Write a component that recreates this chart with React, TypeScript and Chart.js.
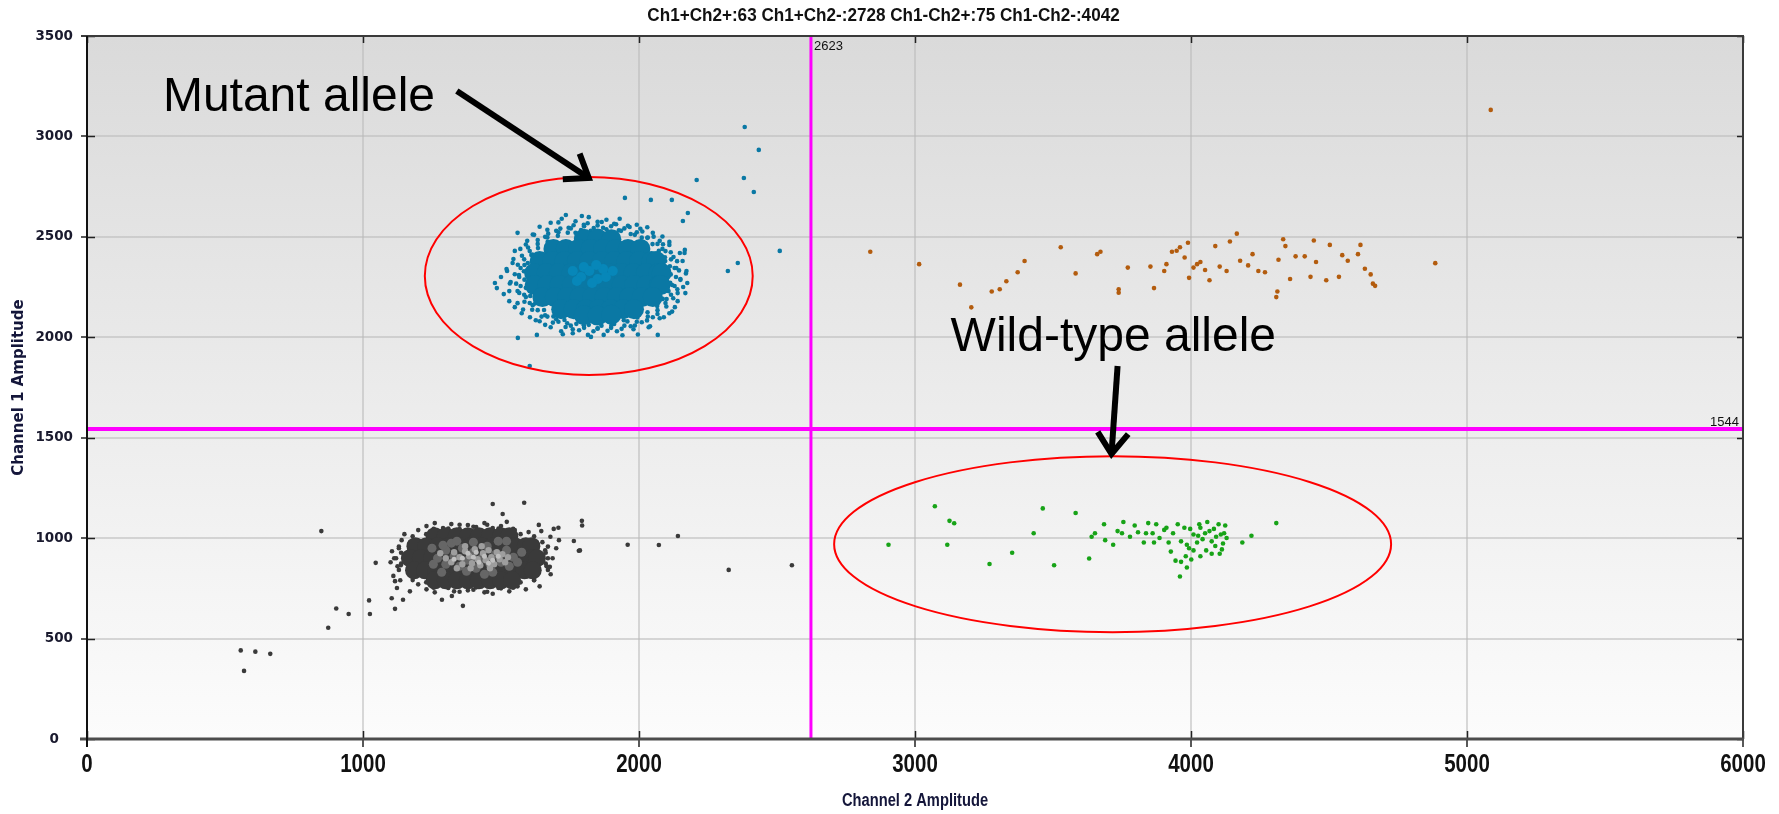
import React, { useEffect, useRef } from 'react';
import { Chart, registerables } from 'chart.js';

Chart.register(...registerables);

type Pt = [number, number];

// ---------- texts & ticks ----------
const chartTitle = 'Ch1+Ch2+:63 Ch1+Ch2-:2728 Ch1-Ch2+:75 Ch1-Ch2-:4042';
const xAxisTitle = 'Channel 2 Amplitude';
const yAxisTitle = 'Channel 1 Amplitude';
const xTickValues = [0, 1000, 2000, 3000, 4000, 5000, 6000];
const yTickValues = [0, 500, 1000, 1500, 2000, 2500, 3000, 3500];
const ch2Threshold = 2623;
const ch1Threshold = 1544;
const mutantLabel = 'Mutant allele';
const wildLabel = 'Wild-type allele';

// ---------- droplets: Ch1+Ch2+ (orange) ----------
const orangeDouble: Pt[] = [
  [2838, 2426], [3015, 2364], [3163, 2262], [3204, 2149], [3278, 2228], [3331, 2279], [3307, 2239],
  [3372, 2324], [3397, 2380], [3528, 2448], [3582, 2318], [3660, 2414], [3672, 2426], [3738, 2222],
  [3738, 2239], [3771, 2347], [3853, 2352], [3866, 2245], [3903, 2330], [3911, 2364], [3931, 2426],
  [3948, 2431], [3960, 2448], [3977, 2397], [3989, 2471], [3993, 2296], [4009, 2347], [4022, 2364],
  [4034, 2375], [4051, 2335], [4067, 2284], [4088, 2454], [4104, 2352], [4129, 2330], [4141, 2477],
  [4166, 2516], [4178, 2381], [4207, 2358], [4223, 2414], [4244, 2330], [4268, 2324], [4309, 2200],
  [4313, 2228], [4317, 2386], [4334, 2488], [4342, 2454], [4359, 2290], [4379, 2403], [4412, 2403],
  [4433, 2301], [4445, 2482], [4453, 2375], [4490, 2284], [4503, 2460], [4536, 2301], [4548, 2409],
  [4568, 2381], [4605, 2414], [4614, 2460], [4630, 2341], [4651, 2313], [4659, 2267], [4667, 2256],
  [4885, 2369], [5086, 3132],
];

// ---------- droplets: Ch1-Ch2+ (green) ----------
const greenWild: Pt[] = [
  [2904, 967], [3072, 1159], [3125, 1086], [3142, 1074], [3117, 967], [3270, 871], [3352, 927],
  [3463, 1148], [3430, 1024], [3504, 865], [3582, 1125], [3631, 899], [3652, 1024], [3685, 1069],
  [3734, 1035], [3755, 1080], [3779, 1007], [3796, 1063], [3808, 1029], [3829, 978], [3845, 1075],
  [3861, 1024], [3874, 1069], [3886, 1001], [3903, 1041], [3919, 978], [3935, 1024], [3952, 1069],
  [3964, 984], [3976, 1052], [3985, 967], [3997, 1046], [4009, 1018], [3911, 1052], [3927, 933],
  [3944, 888], [3960, 809], [3964, 882], [3981, 910], [3993, 950], [4009, 939], [4022, 978],
  [4026, 1012], [4034, 1052], [4042, 995], [4051, 1024], [4059, 1080], [4067, 1035], [4075, 984],
  [4083, 1046], [4091, 1007], [4100, 1069], [4108, 1018], [4116, 973], [4124, 1063], [4104, 922],
  [4075, 922], [4034, 910], [4001, 894], [3985, 854], [4186, 978], [4219, 1012], [4309, 1075],
  [3750, 1024], [3718, 967], [3640, 1007], [3689, 990], [3837, 1024], [3866, 978], [4030, 1069],
  [4055, 939], [4088, 961], [4112, 944], [4120, 1024], [4129, 1001],
];

// ---------- droplets: Ch1+Ch2- (blue) ----------
const blueCore: Pt[] = [
  [1800, 2490], [1850, 2492], [1900, 2488],
  [1690, 2440], [1735, 2440], [1780, 2440], [1825, 2440], [1870, 2440], [1915, 2440], [1960, 2440], [2005, 2440],
  [1640, 2380], [1685, 2380], [1730, 2380], [1775, 2380], [1820, 2380], [1865, 2380], [1910, 2380], [1955, 2380], [2000, 2380], [2045, 2380], [2062, 2380],
  [1620, 2320], [1665, 2320], [1710, 2320], [1755, 2320], [1800, 2320], [1845, 2320], [1890, 2320], [1935, 2320], [1980, 2320], [2025, 2320], [2070, 2320], [2082, 2320],
  [1622, 2260], [1667, 2260], [1712, 2260], [1757, 2260], [1802, 2260], [1847, 2260], [1892, 2260], [1937, 2260], [1982, 2260], [2027, 2260], [2072, 2260], [2078, 2260],
  [1650, 2200], [1695, 2200], [1740, 2200], [1785, 2200], [1830, 2200], [1875, 2200], [1920, 2200], [1965, 2200], [2010, 2200], [2050, 2200],
  [1718, 2140], [1763, 2140], [1808, 2140], [1853, 2140], [1898, 2140], [1943, 2140], [1982, 2140],
  [1800, 2110], [1850, 2108], [1900, 2112],
];
const blueLight: Pt[] = [
  [1790, 2300], [1820, 2330], [1850, 2290], [1870, 2340], [1830, 2270], [1800, 2350], [1880, 2300], [1760, 2330],
  [1905, 2330], [1845, 2360], [1775, 2280],
];
const blueMutant: Pt[] = [
  // rim of the dense core
  [2115, 2313], [2112, 2354], [2094, 2398], [2072, 2431], [2049, 2464], [2010, 2496], [1970, 2514], [1927, 2533],
  [1882, 2538], [1836, 2544], [1790, 2534], [1742, 2521], [1706, 2505], [1669, 2475], [1634, 2444], [1614, 2412],
  [1597, 2370], [1583, 2329], [1585, 2287], [1590, 2246], [1606, 2206], [1624, 2169], [1656, 2136], [1690, 2104],
  [1730, 2086], [1773, 2067], [1818, 2062], [1864, 2058], [1910, 2066], [1958, 2079], [1994, 2099], [2031, 2125],
  [2066, 2156], [2086, 2191], [2107, 2230], [2113, 2271],
  // inner halo
  [2134, 2300], [2129, 2345], [2116, 2388], [2096, 2429], [2067, 2465], [2032, 2497], [1992, 2523], [1947, 2542],
  [1899, 2553], [1850, 2557], [1801, 2553], [1753, 2542], [1708, 2523], [1668, 2497], [1633, 2465], [1604, 2429],
  [1584, 2388], [1571, 2345], [1566, 2300], [1571, 2255], [1584, 2212], [1604, 2171], [1633, 2135], [1668, 2103],
  [1708, 2077], [1753, 2058], [1801, 2047], [1850, 2043], [1899, 2047], [1947, 2058], [1992, 2077], [2032, 2103],
  [2067, 2135], [2096, 2171], [2116, 2212], [2129, 2255],
  // middle halo
  [2145, 2333], [2138, 2379], [2115, 2423], [2087, 2463], [2053, 2501], [2012, 2527], [1966, 2549], [1917, 2563],
  [1865, 2574], [1814, 2568], [1763, 2558], [1715, 2541], [1671, 2516], [1633, 2484], [1598, 2447], [1576, 2406],
  [1561, 2361], [1550, 2314], [1555, 2267], [1566, 2221], [1585, 2177], [1613, 2137], [1647, 2103], [1688, 2073],
  [1734, 2051], [1783, 2035], [1835, 2030], [1886, 2032], [1937, 2042], [1985, 2059], [2029, 2084], [2067, 2116],
  [2099, 2153], [2124, 2194], [2139, 2239], [2150, 2286],
  // outer halo
  [2170, 2318], [2158, 2380], [2148, 2420], [2110, 2475], [2085, 2502], [2030, 2548], [1992, 2560], [1930, 2590],
  [1882, 2585], [1818, 2598], [1770, 2578], [1708, 2572], [1668, 2535], [1615, 2512], [1590, 2462], [1550, 2430],
  [1542, 2370], [1522, 2330], [1532, 2268], [1530, 2230], [1560, 2170], [1580, 2138], [1626, 2085], [1660, 2062],
  [1718, 2030], [1760, 2020], [1826, 2002], [1872, 2012], [1940, 2010], [1980, 2040], [2040, 2055], [2075, 2095],
  [2120, 2128], [2140, 2180], [2168, 2220], [2175, 2270],
  // ragged edge
  [1478, 2270], [1485, 2245], [1500, 2300], [1510, 2215], [1520, 2340], [1530, 2180], [1535, 2275], [1545, 2390],
  [1550, 2150], [1560, 2230], [1565, 2310], [1570, 2440], [1575, 2120], [1585, 2360], [1590, 2200], [1595, 2480],
  [1600, 2260], [1605, 2100], [1610, 2410], [1615, 2160],
  [1560, 2520], [1620, 2510], [1640, 2550], [1660, 2500], [1680, 2570], [1700, 2530], [1720, 2590], [1735, 2609],
  [1745, 2545], [1770, 2520], [1793, 2604], [1800, 2560], [1825, 2530], [1850, 2575], [1870, 2545], [1895, 2520],
  [1910, 2565], [1935, 2530], [1960, 2555], [1985, 2510], [2005, 2540], [2030, 2495], [2050, 2520], [2075, 2480],
  [2085, 2440], [2095, 2380], [2100, 2190], [2105, 2320], [2110, 2460], [2120, 2260], [2125, 2400], [2130, 2150],
  [2135, 2345], [2140, 2220], [2150, 2290], [2160, 2250], [2165, 2420], [2172, 2330], [2110, 2120], [2090, 2100],
  [1561, 1997], [1630, 2012], [1640, 2080], [1660, 2110], [1680, 2050], [1700, 2090], [1724, 2015],
  [1740, 2070], [1760, 2040], [1780, 2095], [1800, 2060], [1815, 2012], [1830, 2080], [1850, 2045], [1875, 2090],
  [1900, 2060], [1920, 2030], [1945, 2085], [1970, 2055], [1996, 2014], [2010, 2075], [2035, 2050], [2068, 2012],
  [2050, 2100],
  // outliers
  [1604, 1857], [2383, 3047], [2434, 2933], [2209, 2783], [2380, 2793], [2416, 2723], [1949, 2694], [2043, 2684],
  [2119, 2684], [2177, 2619], [2159, 2579], [2166, 2435], [2510, 2430], [2358, 2370], [2322, 2330],
];

// ---------- droplets: Ch1-Ch2- (black / grey) ----------
const blackCore: Pt[] = [
  [1260, 1010], [1300, 1010], [1340, 1010], [1380, 1010], [1420, 1010], [1460, 1010], [1500, 1010], [1530, 1010],
  [1190, 960], [1230, 960], [1270, 960], [1310, 960], [1350, 960], [1390, 960], [1430, 960], [1470, 960], [1510, 960], [1550, 960], [1590, 960], [1610, 960],
  [1170, 900], [1210, 900], [1250, 900], [1290, 900], [1330, 900], [1370, 900], [1410, 900], [1450, 900], [1490, 900], [1530, 900], [1570, 900], [1610, 900], [1630, 900],
  [1185, 840], [1225, 840], [1265, 840], [1305, 840], [1345, 840], [1385, 840], [1425, 840], [1465, 840], [1505, 840], [1545, 840], [1585, 840], [1615, 840],
  [1260, 790], [1300, 790], [1340, 790], [1380, 790], [1420, 790], [1460, 790], [1500, 790], [1540, 790],
];
const blackMid: Pt[] = [
  [1270, 900], [1300, 870], [1300, 940], [1330, 910], [1350, 860], [1360, 950], [1380, 890], [1400, 930],
  [1410, 850], [1430, 900], [1450, 960], [1460, 870], [1480, 920], [1500, 880], [1520, 940], [1530, 860],
  [1545, 905], [1285, 830], [1320, 975], [1440, 820], [1490, 985], [1250, 950], [1560, 880], [1290, 965],
  [1340, 985], [1400, 980], [1470, 830], [1520, 985], [1255, 870], [1575, 930], [1375, 835],
];
const blackLight: Pt[] = [
  [1300, 900], [1320, 880], [1330, 930], [1350, 905], [1360, 870], [1370, 935], [1385, 910], [1395, 875],
  [1405, 945], [1415, 895], [1425, 865], [1435, 925], [1445, 890], [1455, 940], [1465, 905], [1475, 870],
  [1485, 930], [1495, 895], [1505, 920], [1515, 880], [1340, 850], [1390, 850], [1460, 850], [1280, 925],
  [1525, 905], [1370, 960], [1430, 960],
];
const blackLighter: Pt[] = [
  [1360, 900], [1400, 905], [1440, 910], [1420, 880], [1380, 925], [1470, 890], [1330, 895], [1490, 910],
  [1410, 930], [1455, 875],
];
const blackNeg: Pt[] = [
  // halo
  [1687, 900], [1670, 958], [1620, 1009], [1544, 1047], [1450, 1067], [1350, 1067], [1256, 1047], [1180, 1009],
  [1130, 958], [1113, 900], [1130, 842], [1180, 791], [1256, 753], [1350, 733], [1450, 733], [1544, 753],
  [1620, 791], [1670, 842],
  [1662, 927], [1630, 979], [1571, 1020], [1491, 1048], [1400, 1057], [1309, 1048], [1229, 1020], [1170, 979],
  [1138, 927], [1138, 873], [1170, 822], [1229, 780], [1309, 752], [1400, 743], [1491, 752], [1571, 780],
  [1630, 822], [1662, 873],
  // ragged edge
  [1120, 900], [1125, 860], [1130, 950], [1110, 812], [1116, 648], [1123, 752], [1145, 693], [1140, 990],
  [1150, 1020], [1100, 880], [1105, 935], [1135, 790],
  [1200, 1040], [1230, 1060], [1260, 1075], [1290, 1050], [1320, 1070], [1350, 1045], [1380, 1065], [1410, 1055],
  [1440, 1075], [1470, 1170], [1470, 1050], [1500, 1060], [1521, 1081], [1550, 1040], [1584, 1176], [1506, 1120],
  [1600, 1030], [1637, 1066], [1691, 1046],
  [1650, 980], [1660, 940], [1670, 900], [1665, 860], [1680, 820], [1700, 950], [1677, 857], [1710, 990],
  [1764, 986], [1782, 937], [1793, 1086], [1794, 1063], [1786, 939], [1679, 1007], [1708, 1052], [1646, 1035],
  [1200, 770], [1230, 745], [1260, 730], [1286, 693], [1300, 760], [1330, 735], [1362, 663], [1380, 740],
  [1410, 755], [1440, 730], [1470, 723], [1500, 750], [1530, 735], [1560, 760], [1590, 745], [1620, 790], [1640, 760],
  // outliers
  [849, 1035], [557, 441], [610, 435], [664, 424], [569, 339], [903, 650], [948, 622], [874, 554],
  [1022, 690], [1025, 622], [1046, 877], [1116, 786], [1137, 865], [1104, 701], [1170, 735], [1207, 820],
  [1322, 712], [1959, 967], [2072, 966], [2141, 1011], [2325, 842], [2554, 865],
];

// ---------- annotation geometry (data units) ----------
const mutantEllipse = { cx: 1818, cy: 2305, rx: 594, ry: 493 };
const wildEllipse = { cx: 3716, cy: 970, rx: 1009, ry: 438 };
const mutantText = { x: 275, y: 3127 };
const wildText = { x: 3129, y: 1932 };
const mutantArrow = { x1: 1340, y1: 3226, x2: 1818, y2: 2793 };
const wildArrow = { x1: 3734, y1: 1857, x2: 3712, y2: 1419 };

const SANS = '"Liberation Sans", Arial, sans-serif';
const DEJAVU = '"DejaVu Sans", Verdana, sans-serif';
const CLEAR = 'rgba(0,0,0,0)';

const toPts = (a: Pt[]) => a.map(([x, y]) => ({ x, y }));

function ds(label: string, data: Pt[], color: string, radius: number) {
  return {
    label,
    data: toPts(data),
    backgroundColor: color,
    pointBackgroundColor: color,
    pointBorderWidth: 0,
    borderWidth: 0,
    pointRadius: radius,
    pointHoverRadius: radius,
    showLine: false,
  };
}

function drawArrow(ctx: CanvasRenderingContext2D, x1: number, y1: number, x2: number, y2: number) {
  const ang = Math.atan2(y2 - y1, x2 - x1);
  const L = 26;
  const A = (36 * Math.PI) / 180;
  ctx.beginPath();
  ctx.moveTo(x1, y1);
  ctx.lineTo(x2, y2);
  ctx.stroke();
  ctx.beginPath();
  ctx.moveTo(x2 - L * Math.cos(ang - A), y2 - L * Math.sin(ang - A));
  ctx.lineTo(x2, y2);
  ctx.lineTo(x2 - L * Math.cos(ang + A), y2 - L * Math.sin(ang + A));
  ctx.stroke();
}

// condensed bold text (Arial-Narrow look) drawn on the canvas
function narrowText(
  ctx: CanvasRenderingContext2D, text: string, x: number, y: number,
  size: number, sx: number, color: string,
) {
  ctx.save();
  ctx.font = `bold ${size}px ${SANS}`;
  ctx.fillStyle = color;
  ctx.textAlign = 'center';
  ctx.textBaseline = 'middle';
  ctx.translate(x, y);
  ctx.scale(sx, 1);
  ctx.fillText(text, 0, 0);
  ctx.restore();
}

const decorPlugin = {
  id: 'ddpcrDecor',
  beforeDraw(chart: any) {
    const { ctx, chartArea: a } = chart;
    ctx.save();
    const g = ctx.createLinearGradient(0, a.top, 0, a.bottom);
    g.addColorStop(0, '#dadada');
    g.addColorStop(1, '#fcfcfc');
    ctx.fillStyle = g;
    ctx.fillRect(a.left, a.top, a.right - a.left, a.bottom - a.top);
    ctx.restore();
  },
  afterDatasetsDraw(chart: any) {
    const { ctx, chartArea: a, scales } = chart;
    const xs = scales.x;
    const ys = scales.y;
    const px = (v: number) => xs.getPixelForValue(v);
    const py = (v: number) => ys.getPixelForValue(v);
    ctx.save();

    // threshold lines
    ctx.strokeStyle = '#ff00ff';
    ctx.lineWidth = 3;
    ctx.beginPath();
    ctx.moveTo(px(ch2Threshold), a.top);
    ctx.lineTo(px(ch2Threshold), a.bottom);
    ctx.stroke();
    ctx.lineWidth = 4;
    ctx.beginPath();
    ctx.moveTo(a.left, py(ch1Threshold));
    ctx.lineTo(a.right, py(ch1Threshold));
    ctx.stroke();

    ctx.fillStyle = '#111';
    ctx.font = `13px ${SANS}`;
    ctx.textBaseline = 'top';
    ctx.textAlign = 'left';
    ctx.fillText(String(ch2Threshold), px(ch2Threshold) + 3, a.top + 4);
    ctx.textBaseline = 'alphabetic';
    ctx.textAlign = 'right';
    ctx.fillText(String(ch1Threshold), a.right - 4, py(ch1Threshold) - 3);

    // annotations
    ctx.strokeStyle = '#ff0000';
    ctx.lineWidth = 2;
    for (const e of [mutantEllipse, wildEllipse]) {
      const cx = px(e.cx);
      const cy = py(e.cy);
      const rx = Math.abs(px(e.cx + e.rx) - cx);
      const ry = Math.abs(py(e.cy + e.ry) - cy);
      ctx.beginPath();
      ctx.ellipse(cx, cy, rx, ry, 0, 0, Math.PI * 2);
      ctx.stroke();
    }
    ctx.strokeStyle = '#000';
    ctx.lineWidth = 6;
    ctx.lineCap = 'butt';
    ctx.lineJoin = 'miter';
    for (const ar of [mutantArrow, wildArrow]) {
      drawArrow(ctx, px(ar.x1), py(ar.y1), px(ar.x2), py(ar.y2));
    }
    ctx.fillStyle = '#000';
    ctx.font = `48px ${SANS}`;
    ctx.textAlign = 'left';
    ctx.textBaseline = 'alphabetic';
    ctx.fillText(mutantLabel, px(mutantText.x), py(mutantText.y));
    ctx.fillText(wildLabel, px(wildText.x), py(wildText.y));

    // inner tick marks
    ctx.strokeStyle = '#222';
    ctx.lineWidth = 1.5;
    ctx.beginPath();
    for (const v of xTickValues) {
      const x = Math.round(px(v)) + 0.5;
      ctx.moveTo(x, a.bottom);
      ctx.lineTo(x, a.bottom - 8);
      ctx.moveTo(x, a.top);
      ctx.lineTo(x, a.top + 7);
    }
    for (const v of yTickValues) {
      const y = Math.round(py(v)) + 0.5;
      ctx.moveTo(a.left, y);
      ctx.lineTo(a.left + 8, y);
      ctx.moveTo(a.right, y);
      ctx.lineTo(a.right - 6, y);
    }
    ctx.stroke();

    // frame
    ctx.lineCap = 'butt';
    ctx.strokeStyle = '#3a3a3a';
    ctx.lineWidth = 2;
    ctx.beginPath();
    ctx.moveTo(a.left - 6, a.top);
    ctx.lineTo(a.right, a.top);
    ctx.lineTo(a.right, a.bottom);
    ctx.stroke();
    ctx.strokeStyle = '#4d4d4d';
    ctx.lineWidth = 3;
    ctx.beginPath();
    ctx.moveTo(a.left - 7, a.bottom);
    ctx.lineTo(a.right + 1, a.bottom);
    ctx.stroke();
    ctx.strokeStyle = '#111';
    ctx.lineWidth = 2;
    ctx.beginPath();
    ctx.moveTo(a.left, a.top);
    ctx.lineTo(a.left, a.bottom + 8);
    ctx.stroke();

    // title, x tick labels, x axis title (condensed bold)
    narrowText(ctx, chartTitle, chart.width / 2 - 6, 16, 19, 0.9, '#111');
    for (const v of xTickValues) {
      narrowText(ctx, String(v), px(v), a.bottom + 26, 25, 0.82, '#111');
    }
    narrowText(ctx, xAxisTitle, (a.left + a.right) / 2, a.bottom + 62, 17.5, 0.84, '#14163a');
    ctx.restore();
  },
};

export default function App() {
  const ref = useRef<HTMLCanvasElement>(null);

  useEffect(() => {
    if (!ref.current) return;
    const chart = new Chart(ref.current, {
      type: 'scatter',
      data: {
        datasets: [
          ds('Ch1-Ch2- light', blackLighter, '#c0c0c0', 2.5),
          ds('Ch1-Ch2- pale', blackLight, '#9e9e9e', 3.2),
          ds('Ch1-Ch2- mid', blackMid, '#666666', 4.5),
          ds('Ch1-Ch2- core', blackCore, '#3a3a3a', 9),
          ds('Ch1-Ch2-', blackNeg, '#3a3a3a', 2.3),
          ds('Ch1+Ch2- light', blueLight, '#0787b9', 5),
          ds('Ch1+Ch2- core', blueCore, '#0a78a4', 10),
          ds('Ch1+Ch2-', blueMutant, '#0a78a4', 2.3),
          ds('Ch1-Ch2+', greenWild, '#17a317', 2.3),
          ds('Ch1+Ch2+', orangeDouble, '#b35c0e', 2.3),
        ] as any,
      },
      options: {
        animation: false,
        responsive: true,
        maintainAspectRatio: false,
        devicePixelRatio: 1,
        events: [],
        layout: { padding: { left: 0, right: 36, top: 36, bottom: 0 } },
        plugins: {
          legend: { display: false },
          tooltip: { enabled: false },
          title: { display: false },
        },
        scales: {
          x: {
            type: 'linear',
            min: 0,
            max: 6000,
            afterBuildTicks: (s: any) => {
              s.ticks = xTickValues.map((v) => ({ value: v }));
            },
            afterFit: (s: any) => {
              s.height = 75;
            },
            ticks: {
              callback: (v: any) => String(v),
              color: CLEAR,
              font: { family: SANS, size: 14, weight: 'bold' },
              padding: 3,
              maxRotation: 0,
            },
            grid: {
              color: 'rgba(185,185,185,0.55)',
              lineWidth: 2,
              tickColor: '#222',
              tickWidth: 1.5,
              tickLength: 8,
            },
            border: { display: false },
            title: { display: false },
          },
          y: {
            type: 'linear',
            min: 0,
            max: 3500,
            afterBuildTicks: (s: any) => {
              s.ticks = yTickValues.map((v) => ({ value: v }));
            },
            afterFit: (s: any) => {
              s.width = 87;
            },
            ticks: {
              callback: (v: any) => (v === 0 ? '0   ' : String(v)),
              color: '#1a1a2e',
              font: { family: DEJAVU, size: 13.5, weight: 'bold' },
              padding: 8,
            },
            grid: {
              color: 'rgba(185,185,185,0.55)',
              lineWidth: 2,
              tickColor: '#222',
              tickWidth: 1.5,
              tickLength: 6,
            },
            border: { display: false },
            title: {
              display: true,
              text: yAxisTitle,
              color: '#14163a',
              font: { family: DEJAVU, size: 15, weight: 'bold' },
              padding: { top: 10, bottom: 0 },
            },
          },
        },
      },
      plugins: [decorPlugin],
    });
    return () => chart.destroy();
  }, []);

  return (
    <div style={{ position: 'absolute', left: 0, top: 0, width: 1779, height: 814, background: '#fff' }}>
      <canvas ref={ref} />
    </div>
  );
}
